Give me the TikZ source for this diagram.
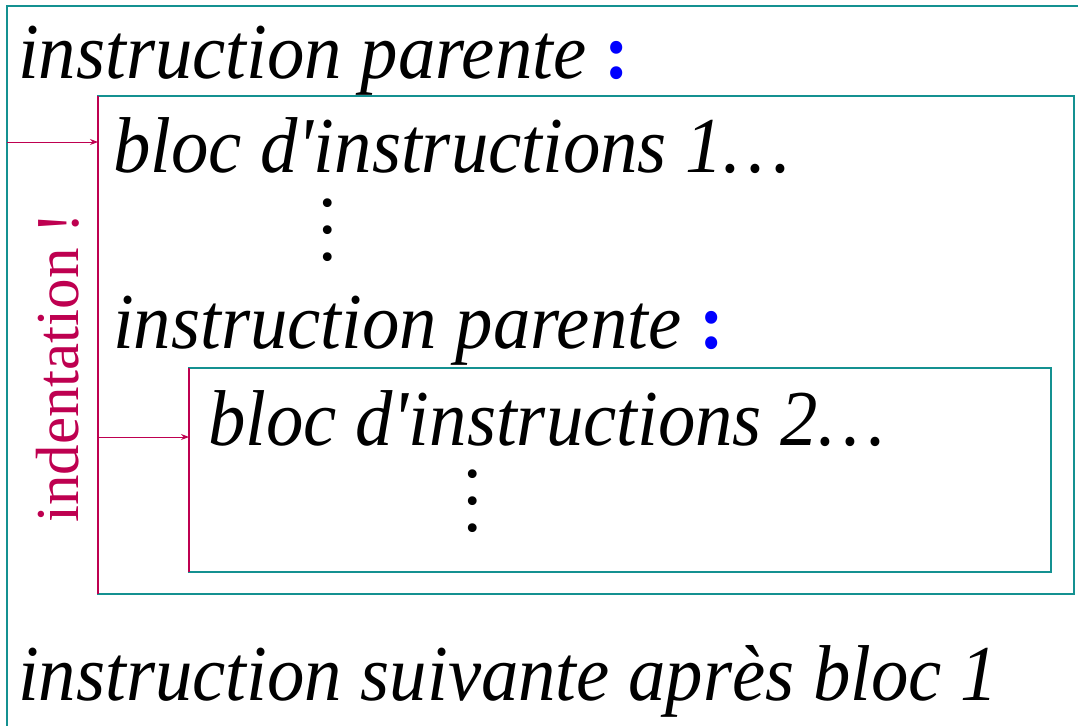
\documentclass[tikz,border=0pt]{standalone}
\usepackage{fontspec}
\setmainfont{Liberation Serif}
\usetikzlibrary{arrows.meta}
\definecolor{tealline}{RGB}{20,145,145}
\definecolor{magline}{RGB}{190,0,80}
\definecolor{colonblue}{RGB}{0,0,255}
\newcommand{\talltext}[1]{\scalebox{1.01}[1.07]{#1}}
\begin{document}
\begin{tikzpicture}[x=1pt,y=-1pt,
  frame/.style={draw=tealline, line width=2pt, inner sep=0pt, outer sep=0pt, anchor=north west},
  txt/.style={font=\fontsize{74}{80}\selectfont\itshape, anchor=base west, inner sep=0pt},
  vdotsnode/.style={font=\fontsize{74}{27}\selectfont, align=center, inner sep=0pt, anchor=center},
  indentline/.style={draw=magline, line width=2pt},
  arr/.style={draw=magline, line width=1pt, -{Stealth[length=8pt,width=6pt]}}]
\useasboundingbox (0,0) rectangle (1078,725);
\begin{scope}
\clip (0,0) rectangle (1078,725);
\node[frame, minimum width=1120pt, minimum height=780pt] (outer) at (7,6) {};
\end{scope}
\node[frame, minimum width=976pt, minimum height=498pt] (b1) at (98,96) {};
\node[frame, minimum width=862pt, minimum height=204pt] (b2) at (189,368) {};
\draw[indentline] (b1.north west) -- (b1.south west);
\draw[indentline] (b2.north west) -- (b2.south west);
\coordinate (a1) at (7,142);
\coordinate (a2) at (98,437);
\draw[arr] (a1) -- (a1 -| b1.west);
\draw[arr] (a2) -- (a2 -| b2.west);
\node[txt] (t1) at (18,78) {\talltext{instruction parente {\color{colonblue}\upshape\bfseries :}}};
\node[txt] (t2) at (113,172) {\talltext{bloc d\textquotesingle instructions 1\ldots}};
\node[vdotsnode] (d1) at (328,230) {.\\.\\.};
\node[txt] (t3) at (113,348) {\talltext{instruction parente {\color{colonblue}\upshape\bfseries :}}};
\node[txt] (t4) at (208,445) {\talltext{bloc d\textquotesingle instructions 2\ldots}};
\node[vdotsnode] (d2) at (473,501) {.\\.\\.};
\node[txt] (t5) at (18,700) {\talltext{instruction suivante après bloc 1}};
\node[rotate=90, anchor=base west, inner sep=0pt, font=\fontsize{61}{70}\selectfont, text=magline] (ind) at (78,523) {indentation !};
\end{tikzpicture}
\end{document}
